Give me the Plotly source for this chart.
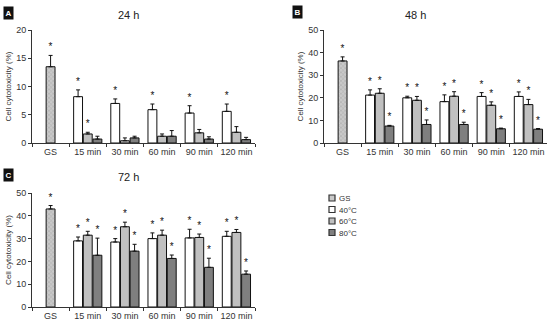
import plotly.graph_objects as go

categories = ["GS", "15 min", "30 min", "60 min", "90 min", "120 min"]
times = ["15 min", "30 min", "60 min", "90 min", "120 min"]

# Panel A (24 h)
a_gs, a_gs_err, a_gs_star = 13.5, 2.0, "*"
a_40 = [8.2, 7.0, 5.9, 5.3, 5.6]
a_40_err = [1.2, 0.8, 1.0, 1.3, 1.3]
a_40_star = ["*", "*", "*", "*", "*"]
a_60 = [1.6, 0.4, 1.2, 1.8, 1.9]
a_60_err = [0.3, 0.5, 0.4, 0.6, 1.0]
a_60_star = ["*", "", "", "", ""]
a_80 = [0.7, 0.9, 1.2, 0.7, 0.6]
a_80_err = [0.5, 0.3, 1.0, 0.4, 0.4]
a_80_star = ["", "", "", "", ""]

# Panel B (48 h)
b_gs, b_gs_err, b_gs_star = 36.3, 1.8, "*"
b_40 = [21.2, 20.0, 18.3, 20.6, 20.6]
b_40_err = [2.3, 0.7, 3.0, 1.7, 2.0]
b_40_star = ["*", "*", "*", "*", "*"]
b_60 = [22.0, 18.9, 20.7, 16.7, 17.0]
b_60_err = [2.0, 1.7, 2.0, 1.5, 2.3]
b_60_star = ["*", "*", "*", "*", "*"]
b_80 = [7.5, 8.2, 8.2, 6.3, 6.1]
b_80_err = [0.3, 2.0, 1.0, 0.3, 0.3]
b_80_star = ["*", "*", "*", "*", "*"]

# Panel C (72 h)
c_gs, c_gs_err, c_gs_star = 43.0, 1.5, "*"
c_40 = [29.0, 28.5, 30.0, 30.3, 31.0]
c_40_err = [1.7, 1.5, 2.5, 3.8, 2.2]
c_40_star = ["*", "*", "*", "*", "*"]
c_60 = [31.5, 35.2, 31.5, 30.5, 32.7]
c_60_err = [1.7, 2.0, 2.2, 1.5, 1.3]
c_60_star = ["*", "*", "*", "*", "*"]
c_80 = [22.7, 24.5, 21.3, 17.4, 14.4]
c_80_err = [7.5, 3.0, 1.5, 4.0, 1.4]
c_80_star = ["*", "*", "*", "*", "*"]

legend_labels = ["GS", "40°C", "60°C", "80°C"]
col_gs_bg, col_gs_fg = "#c9c9c9", "#8a8a8a"
col_40, col_60, col_80 = "#ffffff", "#c0c0c0", "#7f7f7f"

FONT = "Arial, Liberation Sans, sans-serif"
fig = go.Figure()

panels = [
    ("x", "y", a_gs, a_gs_err, a_gs_star, a_40, a_40_err, a_40_star, a_60, a_60_err, a_60_star, a_80, a_80_err, a_80_star),
    ("x2", "y2", b_gs, b_gs_err, b_gs_star, b_40, b_40_err, b_40_star, b_60, b_60_err, b_60_star, b_80, b_80_err, b_80_star),
    ("x3", "y3", c_gs, c_gs_err, c_gs_star, c_40, c_40_err, c_40_star, c_60, c_60_err, c_60_star, c_80, c_80_err, c_80_star),
]

line = dict(color="#111111", width=1)

def err(arr):
    return dict(type="data", array=arr, arrayminus=[0] * len(arr), symmetric=False,
                color="#111111", thickness=1, width=2)

for (xa, ya, gs, gse, gss, v40, e40, s40, v60, e60, s60, v80, e80, s80) in panels:
    # 40 °C first so that its offset group comes first
    fig.add_trace(go.Bar(x=times, y=v40, xaxis=xa, yaxis=ya, offsetgroup="a",
                         marker=dict(color=col_40, line=line), error_y=err(e40), showlegend=False))
    # GS bar in the centre slot
    fig.add_trace(go.Bar(x=["GS"], y=[gs], xaxis=xa, yaxis=ya, offsetgroup="b",
                         marker=dict(color=col_gs_bg, line=line,
                                     pattern=dict(shape="x", fgcolor=col_gs_fg, bgcolor=col_gs_bg, size=3, solidity=0.3)),
                         error_y=err([gse]), showlegend=False))
    fig.add_trace(go.Bar(x=times, y=v60, xaxis=xa, yaxis=ya, offsetgroup="b",
                         marker=dict(color=col_60, line=line), error_y=err(e60), showlegend=False))
    fig.add_trace(go.Bar(x=times, y=v80, xaxis=xa, yaxis=ya, offsetgroup="c",
                         marker=dict(color=col_80, line=line), error_y=err(e80), showlegend=False))
    # significance stars (transparent bars reaching the error bar top)
    for xs, vals, errs, stars, og in [(times, v40, e40, s40, "a"), (["GS"], [gs], [gse], [gss], "b"),
                                      (times, v60, e60, s60, "b"), (times, v80, e80, s80, "c")]:
        fig.add_trace(go.Bar(x=xs, y=[v + e for v, e in zip(vals, errs)], xaxis=xa, yaxis=ya, offsetgroup=og,
                             marker=dict(color="rgba(0,0,0,0)", line=dict(width=0)),
                             text=stars, textposition="outside", cliponaxis=False,
                             textfont=dict(size=10, color="#111111", family=FONT),
                             hoverinfo="skip", showlegend=False))

H = 322.0
W = 550.0
def py(p):
    return 1 - p / H

xcommon = dict(type="category", categoryorder="array", categoryarray=categories, tickangle=0, automargin=False,
               showline=True, linecolor="#333333", linewidth=1, ticks="outside", tickson="boundaries",
               ticklen=3, tickcolor="#333333", tickfont=dict(size=9, color="#333333", family=FONT),
               showgrid=False, zeroline=False, fixedrange=True)
ycommon = dict(showline=True, linecolor="#333333", linewidth=1, ticks="outside", ticklen=3, automargin=False,
               tickcolor="#333333", tickfont=dict(size=9, color="#333333", family=FONT),
               showgrid=False, zeroline=False, fixedrange=True,
               title=dict(text="Cell cytotoxicity (%)", font=dict(size=8, color="#333333", family=FONT), standoff=3))

fig.update_layout(
    width=550, height=322, margin=dict(l=0, r=0, t=0, b=0),
    paper_bgcolor="white", plot_bgcolor="white",
    barmode="group", bargap=0.22, bargroupgap=0.08,
    xaxis=dict(domain=[32 / W, 255 / W], anchor="y", **xcommon),
    yaxis=dict(domain=[py(143), py(30)], anchor="x", range=[0, 20], dtick=5, **ycommon),
    xaxis2=dict(domain=[324 / W, 547 / W], anchor="y2", **xcommon),
    yaxis2=dict(domain=[py(143), py(30)], anchor="x2", range=[0, 50], dtick=10, **ycommon),
    xaxis3=dict(domain=[32 / W, 255 / W], anchor="y3", **xcommon),
    yaxis3=dict(domain=[py(307), py(193)], anchor="x3", range=[0, 50], dtick=10, **ycommon),
    showlegend=False,
)

# panel titles and letter boxes
for txt, x, y in [("24 h", 128, 15), ("48 h", 415, 15), ("72 h", 128, 177)]:
    fig.add_annotation(text=txt, x=x / W, y=py(y), xref="paper", yref="paper", showarrow=False,
                       xanchor="center", yanchor="middle",
                       font=dict(size=11, color="#222222", family=FONT))
for txt, x, y in [("A", 8, 13), ("B", 297, 12), ("C", 8, 175)]:
    fig.add_annotation(text="<b>" + txt + "</b>", x=x / W, y=py(y), xref="paper", yref="paper", showarrow=False,
                       xanchor="center", yanchor="middle",
                       bgcolor="#111111", font=dict(size=8, color="white", family=FONT), borderpad=1.5)

# legend
leg_y = [198, 209.5, 221, 232.5]
leg_cols = [col_gs_bg, col_40, col_60, col_80]
for lab, yy, col in zip(legend_labels, leg_y, leg_cols):
    fig.add_shape(type="rect", xref="paper", yref="paper", x0=329 / W, x1=335 / W,
                  y0=py(yy + 3), y1=py(yy - 3), fillcolor=col, line=dict(color="#333333", width=1.2))
    fig.add_annotation(text=lab, x=337.5 / W, y=py(yy), xref="paper", yref="paper", showarrow=False,
                       xanchor="left", yanchor="middle", borderpad=0, height=10,
                       font=dict(size=8, color="#333333", family=FONT))

fig.write_html("out.html", config={"displayModeBar": False},
               post_script="document.body.style.margin='0';document.body.style.overflow='hidden';")
